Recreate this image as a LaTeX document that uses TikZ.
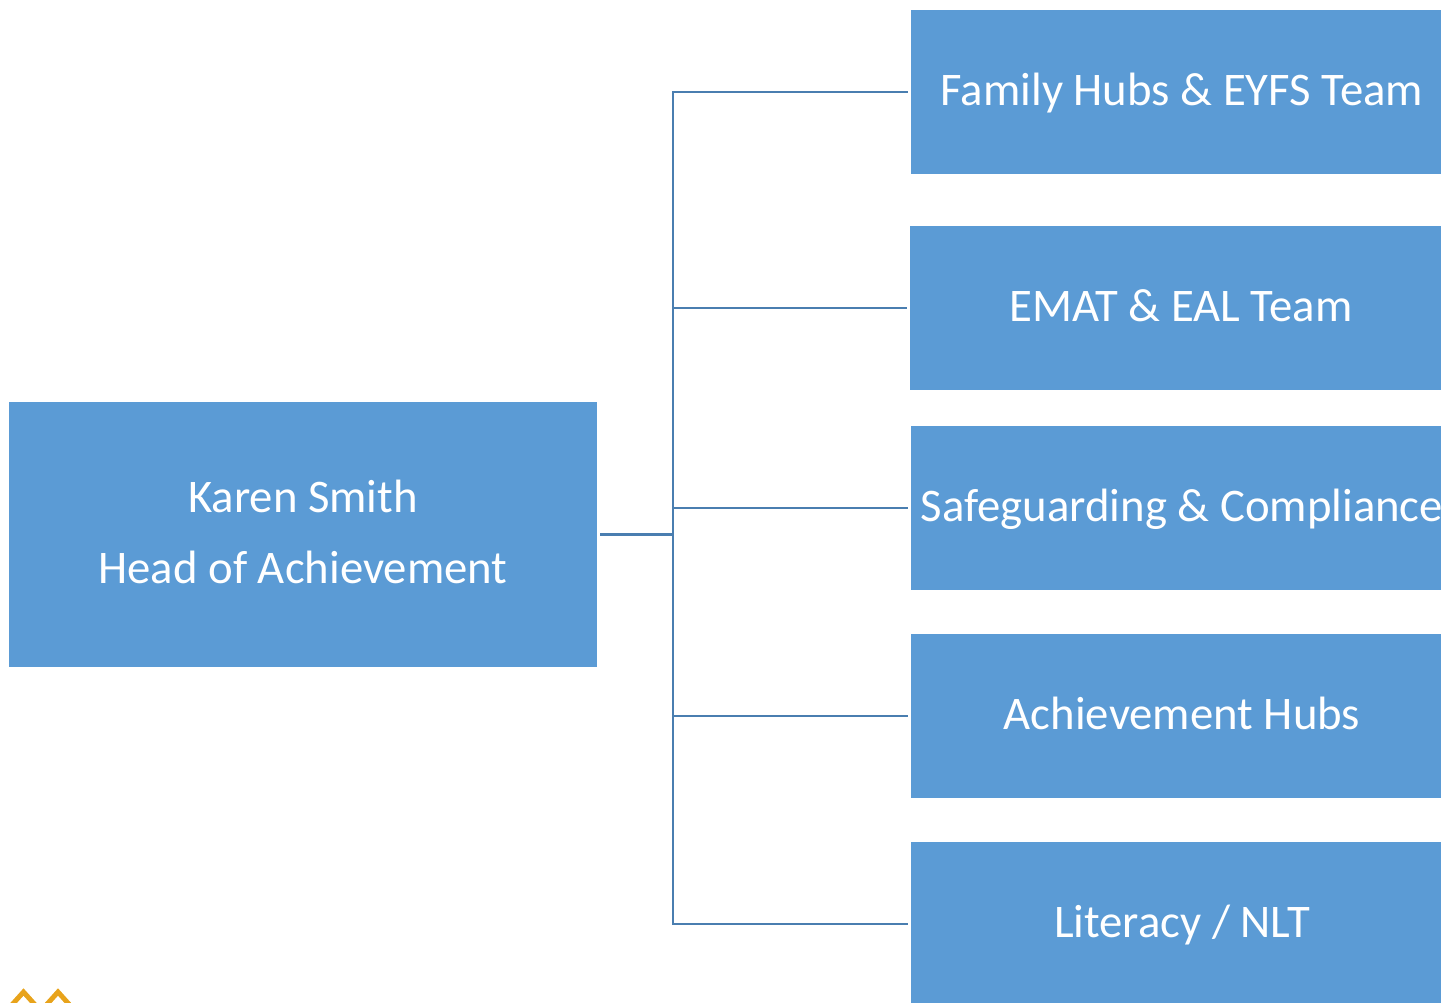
\documentclass[tikz,border=0pt]{standalone}
\usepackage{fontspec}
\setmainfont{Carlito}
\definecolor{boxblue}{HTML}{5B9BD5}
\definecolor{lineblue}{HTML}{4A7EB0}
\definecolor{chevron}{HTML}{E8A31B}
\tikzset{
    bluebox/.style={fill=boxblue,text=white,outer sep=0.07cm,inner sep=0pt,font=\fontsize{26.6}{40.3}\selectfont},
    teambox/.style={bluebox,minimum width=10.84cm,minimum height=3.28cm,text height=0.56cm,text depth=0cm},
    headbox/.style={bluebox,minimum width=11.74cm,minimum height=5.3cm,align=center,text depth=0.1cm},
    branch/.style={lineblue,line width=1.4pt}
}
\begin{document}
\begin{tikzpicture}
    \useasboundingbox (0,0) rectangle (28.82,20.04);
    \clip (0,0) rectangle (28.82,20.04);
    \node[headbox] (head) at (6.06,9.35) {Karen Smith\\Head of Achievement};
    \node[teambox] (family) at (23.64,18.2) {Family Hubs \& EYFS Team};
    \node[teambox] (emat) at (23.62,13.88) {EMAT \& EAL Team};
    \node[teambox] (safe) at (23.64,9.88) {Safeguarding \& Compliance};
    \node[teambox] (hubs) at (23.64,5.72) {Achievement Hubs};
    \node[teambox] (literacy) at (23.64,1.56) {Literacy / NLT};
    \coordinate (trunk) at (13.46,9.35);
    \draw[branch,line width=1.8pt] (head.east) -- (trunk);
    \draw[branch] (trunk) |- (family.west);
    \draw[branch] (trunk) |- (emat.west);
    \draw[branch] (trunk) |- (safe.west);
    \draw[branch] (trunk) |- (hubs.west);
    \draw[branch] (trunk) |- (literacy.west);
    % chevrons
    \draw[chevron,line width=2.8pt] (0.2,-0.1) -- (0.47,0.2) -- (0.74,-0.1);
    \draw[chevron,line width=2.8pt] (0.89,-0.1) -- (1.16,0.2) -- (1.43,-0.1);
\end{tikzpicture}
\end{document}
